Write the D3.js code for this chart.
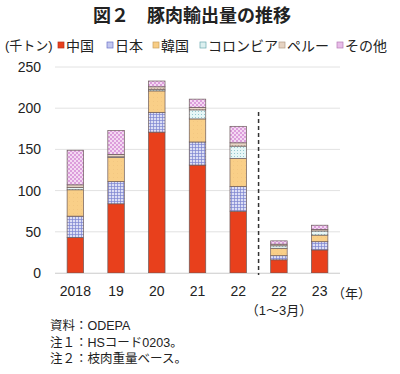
<!DOCTYPE html>
<html><head><meta charset="utf-8">
<script src="https://cdn.jsdelivr.net/npm/d3@7"></script>
<style>
body{margin:0;background:#fff;}
text{font-family:"Liberation Sans","Noto Sans CJK JP",sans-serif;}
</style></head>
<body><svg id="c" width="400" height="374"></svg>
<script>
const categories = ["2018","2019","2020","2021","2022","2022Q1","2023Q1"];
const tickLabels = ["2018","19","20","21","22","22","23"];
const seriesNames = ["中国","日本","韓国","コロンビア","ペルー","その他"];
const china    = [43, 84, 171, 131, 75, 16, 28];
const japan    = [26, 27, 24, 28, 30, 5, 10];
const korea    = [32, 29, 26, 28, 34, 9, 8];
const colombia = [3, 1, 2, 11, 15, 3, 5];
const peru     = [3, 3, 3, 3, 4, 2, 2];
const others   = [42, 29, 7, 10, 20, 4, 5];
const yTicks = [0,50,100,150,200,250];
const notes = ["資料：ODEPA","注１：HSコード0203。","注２：枝肉重量ベース。"];

const svg = d3.select("#c");
const defs = svg.append("defs");
function pat(id, bg, size, draw){
  const p = defs.append("pattern").attr("id",id).attr("patternUnits","userSpaceOnUse").attr("width",size).attr("height",size);
  p.append("rect").attr("width",size).attr("height",size).attr("fill",bg);
  draw(p);
}
pat("pJapan","#dcdef5",3,p=>{
  p.append("path").attr("d","M0,0.5H3M0.5,0V3").attr("stroke","#7d84d0").attr("stroke-width",0.7);
});
pat("pKorea","#f9cf88",4,p=>{
  p.append("rect").attr("x",1).attr("y",1).attr("width",0.6).attr("height",0.6).attr("fill","#ebb974");
});
pat("pCol","#e6f6f6",3,p=>{
  p.append("rect").attr("x",0).attr("y",0).attr("width",1).attr("height",1).attr("fill","#95c8cf");
});
pat("pPeru","#e8d6c6",3,p=>{
  p.append("rect").attr("x",1).attr("y",1).attr("width",1).attr("height",1).attr("fill","#c9ad98");
});
pat("pOth","#f4d9f2",4,p=>{
  p.append("rect").attr("x",0).attr("y",0).attr("width",2).attr("height",2).attr("fill","#dc9edc");
  p.append("rect").attr("x",2).attr("y",2).attr("width",2).attr("height",2).attr("fill","#dc9edc");
});
const fills = ["#e8401c","url(#pJapan)","url(#pKorea)","url(#pCol)","url(#pPeru)","url(#pOth)"];
const legendFills = ["#e8401c","#c3c7ee","#f8cd85","#dcf0f0","#e6d3c2","#e8bde8"];
const legendStroke = ["#b8321a","#6b72c8","#c9a060","#6aa8b0","#b39a85","#b57ab5"];

const x = d3.scaleBand().domain(categories).range([55,340]).paddingInner(0.595).paddingOuter(0.2975);
const y = d3.scaleLinear().domain([0,250]).range([273,67]);

svg.append("text").attr("x",192).attr("y",22).attr("text-anchor","middle")
  .attr("font-size",18).attr("font-weight","bold").attr("fill","#222").text("図２　豚肉輸出量の推移");

svg.append("g").selectAll("line").data(yTicks).join("line")
  .attr("x1",55).attr("x2",340).attr("y1",d=>y(d)).attr("y2",d=>y(d))
  .attr("stroke","#e2e2e2").attr("stroke-width",1);

const yAxis = svg.append("g").attr("transform","translate(55,0)")
  .call(d3.axisLeft(y).tickValues(yTicks).tickSize(0).tickPadding(14));
yAxis.select(".domain").remove();
yAxis.selectAll("text").attr("font-size",14).attr("fill","#222");

const table = categories.map((c,i)=>({cat:c, "中国":china[i],"日本":japan[i],"韓国":korea[i],"コロンビア":colombia[i],"ペルー":peru[i],"その他":others[i]}));
const stack = d3.stack().keys(seriesNames)(table);
svg.append("g").selectAll("g").data(stack).join("g")
  .attr("fill",(d,i)=>fills[i])
  .selectAll("rect").data(d=>d).join("rect")
  .attr("x",d=>x(d.data.cat)).attr("width",x.bandwidth())
  .attr("y",d=>y(d[1])).attr("height",d=>y(d[0])-y(d[1]))
  .attr("stroke","#6b5a5a").attr("stroke-width",0.7);

svg.append("line").attr("x1",55).attr("x2",340).attr("y1",y(0)+0.5).attr("y2",y(0)+0.5).attr("stroke","#d8d8d8");

const sepX = (x("2022")+x.bandwidth() + x("2022Q1"))/2;
svg.append("line").attr("x1",sepX).attr("x2",sepX).attr("y1",112).attr("y2",y(0)+2)
  .attr("stroke","#333").attr("stroke-width",1.5).attr("stroke-dasharray","4,3");

const xAxis = svg.append("g").attr("transform",`translate(0,${y(0)})`)
  .call(d3.axisBottom(x).tickSize(0).tickPadding(13).tickFormat((d,i)=>tickLabels[i]));
xAxis.select(".domain").remove();
xAxis.selectAll("text").attr("font-size",14).attr("fill","#222");
svg.append("text").attr("x",x("2023Q1")+x.bandwidth()+4).attr("y",298).attr("font-size",13).attr("fill","#222").text("（年）");
svg.append("text").attr("x",x("2022Q1")+x.bandwidth()/2).attr("y",315).attr("text-anchor","middle").attr("font-size",13).attr("fill","#222").text("（1～3月）");

svg.append("text").attr("x",5).attr("y",50).attr("font-size",13).attr("fill","#222").text("(千トン)");
const legendX = [58,107,153,200,279,337];
const lg = svg.append("g").selectAll("g").data(seriesNames).join("g")
  .attr("transform",(d,i)=>`translate(${legendX[i]},0)`);
lg.append("rect").attr("x",0).attr("y",42).attr("width",6).attr("height",6)
  .attr("fill",(d,i)=>legendFills[i]).attr("stroke",(d,i)=>legendStroke[i]).attr("stroke-width",0.7);
lg.append("text").attr("x",8).attr("y",51).attr("font-size",14).attr("fill","#222").text(d=>d);

svg.append("g").selectAll("text").data(notes).join("text")
  .attr("x",50).attr("y",(d,i)=>330+i*16.5).attr("font-size",12.5).attr("fill","#222").text(d=>d);
</script></body></html>
